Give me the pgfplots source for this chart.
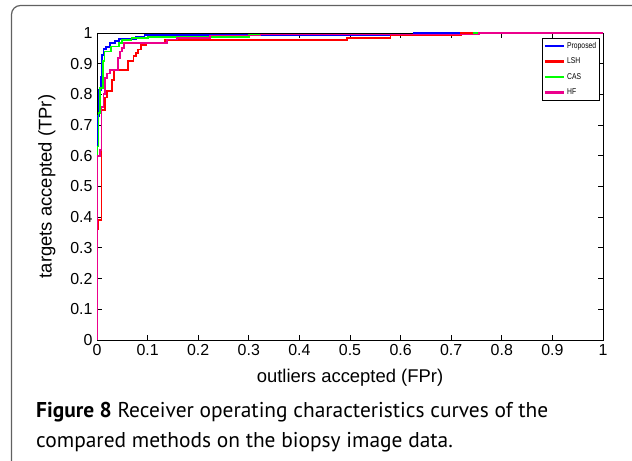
\documentclass[border=0pt]{standalone}
\usepackage{pgfplots}
\pgfplotsset{compat=1.18}
\usepackage{graphicx}
\usepackage{fontspec}
\setmainfont{Liberation Sans}
\newfontfamily\capfont{PT Sans}

\begin{document}
\begin{tikzpicture}
\useasboundingbox (0,0) rectangle (632bp,461bp);
% figure frame, cut off at the right and bottom
\begin{scope}
  \clip (0,0) rectangle (632bp,461bp);
  \draw[black!62, line width=1.2bp, rounded corners=9bp] (11.5bp,-40bp) -- (11.5bp,455.5bp) -- (700bp,455.5bp);
\end{scope}
\begin{axis}[
    at={(97bp,121bp)}, anchor=south west,
    scale only axis, width=506bp, height=307bp,
    xmin=0, xmax=1, ymin=0, ymax=1,
    xtick={0,0.1,0.2,0.3,0.4,0.5,0.6,0.7,0.8,0.9,1},
    xticklabels={0,0.1,0.2,0.3,0.4,0.5,0.6,0.7,0.8,0.9,1},
    ytick={0,0.1,0.2,0.3,0.4,0.5,0.6,0.7,0.8,0.9,1},
    yticklabels={0,0.1,0.2,0.3,0.4,0.5,0.6,0.7,0.8,0.9,1},
    tick align=inside,
    major tick length=5bp,
    axis line style={line width=0.8bp},
    every tick/.style={black, line width=0.8bp},
    ticklabel style={font=\fontsize{16}{18}\selectfont},
    xticklabel style={yshift=-1bp},
    yticklabel style={xshift=-1bp},
    xlabel={outliers accepted (FPr)},
    ylabel={targets accepted (TPr)},
    label style={font=\fontsize{18.5}{21}\selectfont},
    xlabel style={at={(axis description cs:0.5,-0.124)}, anchor=center},
    ylabel style={at={(axis description cs:-0.099,0.5)}, anchor=center},
    legend style={at={(rel axis cs:0.994,0.984)}, anchor=north east,
        draw=black, line width=0.6bp,
        font=\fontsize{8.5}{9.5}\selectfont,
        inner xsep=1.5bp, inner ysep=2bp, row sep=4bp,
        cells={anchor=west}},
    legend image code/.code={\draw[#1, line width=2.5bp] (0bp,0bp) -- (19bp,0bp);},
    legend cell align=left,
]
% Proposed
\addplot[blue, line width=1.8bp] coordinates {
(0,0) (0,0.66) (0.002,0.66) (0.002,0.73) (0.0045,0.73) (0.0045,0.815) (0.008,0.815)
(0.008,0.858) (0.010,0.858) (0.010,0.929) (0.013,0.929) (0.013,0.949) (0.018,0.949)
(0.018,0.955) (0.025,0.955) (0.025,0.967) (0.035,0.967) (0.035,0.973) (0.044,0.973)
(0.044,0.98) (0.077,0.98) (0.077,0.986) (0.094,0.986) (0.094,0.993) (0.626,0.993)
(0.626,1) (1,1)};
\addlegendentry{\scalebox{0.8}[1]{Proposed}}
% LSH
\addplot[red, line width=1.8bp] coordinates {
(0,0) (0,0.36) (0.003,0.36) (0.003,0.39) (0.009,0.39) (0.009,0.748) (0.0156,0.748)
(0.0156,0.79) (0.0195,0.79) (0.0195,0.81) (0.029,0.81) (0.029,0.848) (0.033,0.848)
(0.033,0.88) (0.061,0.88) (0.061,0.908) (0.072,0.908) (0.072,0.924) (0.077,0.924)
(0.077,0.935) (0.081,0.935) (0.081,0.946) (0.087,0.946) (0.087,0.962) (0.097,0.962)
(0.097,0.967) (0.135,0.967) (0.135,0.976) (0.494,0.976) (0.494,0.985) (0.58,0.985)
(0.58,0.993) (0.72,0.993) (0.72,1) (1,1)};
\addlegendentry{\scalebox{0.8}[1]{LSH}}
% CAS
\addplot[green, line width=1.8bp] coordinates {
(0,0) (0,0.63) (0.003,0.63) (0.003,0.74) (0.006,0.74) (0.006,0.82) (0.0115,0.82)
(0.0115,0.908) (0.015,0.908) (0.015,0.94) (0.027,0.94) (0.027,0.956) (0.044,0.956)
(0.044,0.967) (0.049,0.967) (0.049,0.978) (0.068,0.978) (0.068,0.984) (0.100,0.984)
(0.100,0.988) (0.30,0.988) (0.30,0.995) (0.745,0.995) (0.745,1) (1,1)};
\addlegendentry{\scalebox{0.8}[1]{CAS}}
% HF
\addplot[magenta, line width=1.8bp] coordinates {
(0,0) (0,0.60) (0.006,0.60) (0.006,0.62) (0.009,0.62) (0.009,0.76) (0.013,0.76)
(0.013,0.80) (0.016,0.80) (0.016,0.853) (0.020,0.853) (0.020,0.868) (0.026,0.868)
(0.026,0.880) (0.041,0.880) (0.041,0.919) (0.046,0.919) (0.046,0.94) (0.049,0.94)
(0.049,0.95) (0.054,0.95) (0.054,0.967) (0.139,0.967) (0.139,0.979) (0.158,0.979)
(0.158,0.985) (0.224,0.985) (0.224,0.992) (0.323,0.992) (0.323,0.995) (0.755,0.995)
(0.755,1) (1,1)};
\addlegendentry{\scalebox{0.8}[1]{HF}}
\end{axis}
% caption
\node[anchor=base west, inner sep=0, font=\capfont\fontsize{21.5}{26}\selectfont] at (36bp,43bp)
  {\textbf{Figure 8} Receiver operating characteristics curves of the};
\node[anchor=base west, inner sep=0, font=\capfont\fontsize{21.5}{26}\selectfont] at (36bp,14bp)
  {compared methods on the biopsy image data.};
\end{tikzpicture}
\end{document}
